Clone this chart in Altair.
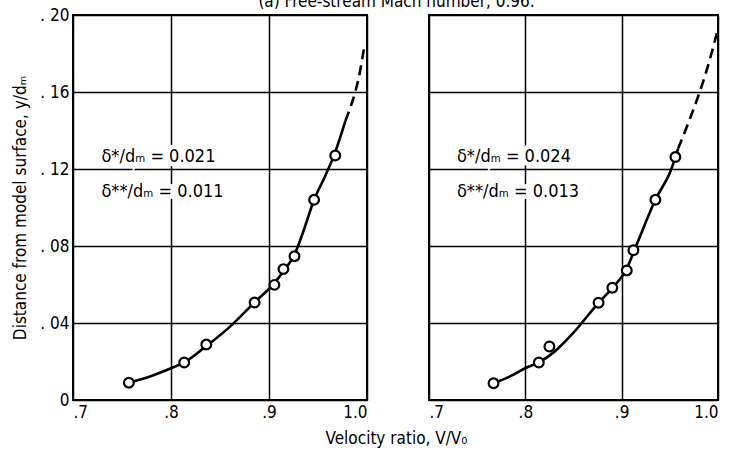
import altair as alt
import pandas as pd

FONT = "Liberation Sans Narrow, DejaVu Sans Condensed, Roboto, sans-serif"

# ---- data ----
left_pts_x = [0.757, 0.8135, 0.836, 0.8853, 0.9055, 0.9147, 0.926, 0.946, 0.9676]
left_pts_y = [0.009, 0.0195, 0.0288, 0.0506, 0.0598, 0.068, 0.0747, 0.104, 0.127]
left_fit_x = [0.757, 0.78, 0.80, 0.8135, 0.836, 0.86, 0.885, 0.905, 0.915, 0.926, 0.936, 0.946, 0.957, 0.967, 0.978]
left_fit_y = [0.009, 0.0125, 0.0165, 0.0195, 0.028, 0.038, 0.0506, 0.0605, 0.067, 0.0755, 0.089, 0.104, 0.116, 0.128, 0.145]
left_ext_x = [0.978, 0.983, 0.988, 0.993, 0.997]
left_ext_y = [0.145, 0.152, 0.160, 0.171, 0.183]

right_pts_x = [0.767, 0.814, 0.825, 0.876, 0.8903, 0.9053, 0.9122, 0.935, 0.9558]
right_pts_y = [0.0087, 0.0195, 0.0278, 0.0505, 0.0583, 0.0673, 0.0778, 0.104, 0.1262]
right_fit_x = [0.767, 0.785, 0.80, 0.814, 0.83, 0.85, 0.876, 0.89, 0.905, 0.915, 0.935, 0.9516, 0.9586]
right_fit_y = [0.0087, 0.0125, 0.0165, 0.0195, 0.025, 0.035, 0.0505, 0.058, 0.068, 0.08, 0.104, 0.12, 0.1306]
right_ext_x = [0.9586, 0.97, 0.981, 0.991, 1.0]
right_ext_y = [0.1306, 0.145, 0.160, 0.176, 0.193]

left_notes = ["δ*/dₘ = 0.021", "δ**/dₘ = 0.011"]
right_notes = ["δ*/dₘ = 0.024", "δ**/dₘ = 0.013"]
note_x = [0.729, 0.729]
note_y = [0.126, 0.108]

x_ticks = [0.7, 0.8, 0.9, 1.0]
y_ticks = [0.0, 0.04, 0.08, 0.12, 0.16, 0.20]

title_text = "(a) Free-stream Mach number, 0.96."
x_title = "Velocity ratio, V/V₀"
y_title = "Distance from model surface, y/dₘ"

X_LABELS = "datum.value == 1 ? '1.0' : replace(format(datum.value, '.1f'), '0.', '.')"
Y_LABELS = "datum.value == 0 ? '0' : '. ' + slice(format(datum.value, '.2f'), 2)"


def panel(px, py, fx, fy, ex, ey, notes, first, width):
    pts = pd.DataFrame({"x": px, "y": py})
    fit = pd.DataFrame({"x": fx, "y": fy})
    ext = pd.DataFrame({"x": ex, "y": ey})
    ann = pd.DataFrame({"x": note_x, "y": note_y, "t": notes})

    xs = alt.Scale(domain=[0.7, 1.0], nice=False, zero=False)
    ys = alt.Scale(domain=[0, 0.2], nice=False)
    if first:
        xa = alt.Axis(values=x_ticks, labelExpr=X_LABELS, title=x_title,
                      titleX=323, titleY=38, titleBaseline="middle", titleAnchor="start",
                      titleAlign="center")
        ya = alt.Axis(values=y_ticks, labelExpr=Y_LABELS, title=y_title, titlePadding=10)
    else:
        xa = alt.Axis(values=x_ticks, labelExpr=X_LABELS, title=None)
        ya = alt.Axis(values=y_ticks, labels=False, title=None)

    def enc(ch):
        return ch.encode(x=alt.X("x:Q", scale=xs, axis=xa),
                         y=alt.Y("y:Q", scale=ys, axis=ya))

    fit_line = enc(alt.Chart(fit).mark_line(color="black", strokeWidth=2.6, interpolate="monotone"))
    ext_line = enc(alt.Chart(ext).mark_line(color="black", strokeWidth=2.6, strokeDash=[10, 6],
                                            interpolate="monotone"))
    halo = enc(alt.Chart(ann).mark_text(align="left", baseline="middle", font=FONT, fontSize=18,
                                        color="white", stroke="white", strokeWidth=9)).encode(text="t:N")
    txt = enc(alt.Chart(ann).mark_text(align="left", baseline="middle", font=FONT, fontSize=18,
                                       color="black")).encode(text="t:N")
    dots = enc(alt.Chart(pts).mark_point(shape="circle", filled=True, fill="white", stroke="black",
                                         strokeWidth=2.2, size=95, opacity=1))
    return alt.layer(fit_line, ext_line, halo, txt, dots).properties(width=width, height=385)


left = panel(left_pts_x, left_pts_y, left_fit_x, left_fit_y, left_ext_x, left_ext_y,
             left_notes, True, 294)
right = panel(right_pts_x, right_pts_y, right_fit_x, right_fit_y, right_ext_x, right_ext_y,
              right_notes, False, 289)

chart = alt.hconcat(left, right, spacing=62, bounds="flush").properties(
    title=alt.TitleParams(title_text, font=FONT, fontSize=17, fontWeight="normal", color="black",
                          anchor="middle", baseline="alphabetic", offset=-19, dx=29),
    padding={"left": 10, "top": -7, "right": 5, "bottom": 5},
    background="white",
).configure_view(stroke="black", strokeWidth=2).configure_axis(
    domain=False, ticks=False, grid=True, gridColor="black", gridWidth=1.5, gridOpacity=1,
    labelFont=FONT, labelFontSize=17, labelColor="black", labelPadding=4,
    titleFont=FONT, titleFontSize=17, titleFontWeight="normal", titleColor="black",
)

chart.save("out.html", embed_options={"renderer": "svg", "actions": False})
